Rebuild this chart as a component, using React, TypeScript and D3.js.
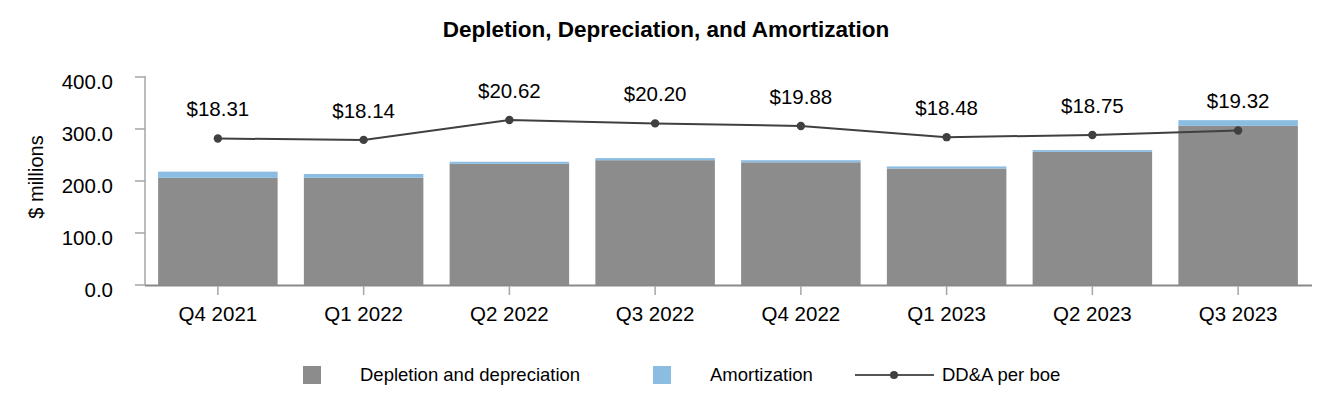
import React from 'react'
import * as d3 from 'd3'

// quarterly DD&A
const QUARTERS = ['Q4 2021', 'Q1 2022', 'Q2 2022', 'Q3 2022', 'Q4 2022', 'Q1 2023', 'Q2 2023', 'Q3 2023']
const DEPLETION = [206, 206, 233, 240, 236, 224, 256, 306]
const AMORTIZATION = [12, 7.5, 4, 4, 4, 4, 3.5, 11]
const PER_BOE = [18.31, 18.14, 20.62, 20.2, 19.88, 18.48, 18.75, 19.32]
const Y_TICKS = [0, 100, 200, 300, 400]

const W = 1332
const H = 420
const FONT = 'Liberation Sans, Arial, sans-serif'
const GRAY = '#8c8c8c'
const BLUE = '#8bbde3'
const LINE = '#404040'
const AXIS = '#a6a6a6'

const App: React.FC = () => {
  const left = 145
  const right = 1311
  const top = 77
  const bottom = 285

  const x = d3.scaleBand<string>()
    .domain(QUARTERS)
    .range([left, right])
    .paddingInner(0.18)
    .paddingOuter(0.09)

  const y = d3.scaleLinear().domain([0, 400]).range([bottom, top])
  // secondary (hidden) axis for $/boe
  const y2 = d3.scaleLinear().domain([0, 26]).range([bottom, top])

  const cx = (q: string) => (x(q) ?? 0) + x.bandwidth() / 2

  const line = d3.line<number>()
    .x((_, i) => cx(QUARTERS[i]))
    .y(d => y2(d))

  const fmt = d3.format('.1f')

  return (
    <svg
      width={W}
      height={H}
      style={{ position: 'absolute', left: 0, top: 0, background: '#fff' }}
      fontFamily={FONT}
    >
      <text x={666} y={37} textAnchor="middle" fontSize={22.5} fontWeight="bold" fill="#000">
        Depletion, Depreciation, and Amortization
      </text>

      {/* y axis */}
      <line x1={left} x2={left} y1={top - 1} y2={bottom} stroke={AXIS} strokeWidth={1.5} />
      {Y_TICKS.map(t => (
        <g key={t}>
          <line x1={left - 10} x2={left} y1={y(t)} y2={y(t)} stroke={AXIS} strokeWidth={1.5} />
          <text x={113} y={y(t) + 5} dy="0.35em" textAnchor="end" fontSize={20.5} fill="#000">
            {fmt(t)}
          </text>
        </g>
      ))}
      <text
        transform={`translate(36, ${(top + bottom) / 2 - 4}) rotate(-90)`}
        textAnchor="middle"
        dy="0.35em"
        fontSize={20}
        fill="#000"
      >
        $ millions
      </text>

      {/* bars */}
      {QUARTERS.map((q, i) => {
        const d = DEPLETION[i]
        const a = AMORTIZATION[i]
        return (
          <g key={q}>
            <rect x={x(q)} y={y(d)} width={x.bandwidth()} height={y(0) - y(d)} fill={GRAY} />
            <rect x={x(q)} y={y(d + a)} width={x.bandwidth()} height={y(d) - y(d + a)} fill={BLUE} />
          </g>
        )
      })}

      {/* x axis */}
      <line x1={left} x2={right + 1} y1={bottom + 0.5} y2={bottom + 0.5} stroke="#8a8a8a" strokeWidth={2} />
      {QUARTERS.map(q => (
        <g key={q}>
          <line x1={cx(q)} x2={cx(q)} y1={bottom + 1} y2={bottom + 10} stroke={AXIS} strokeWidth={1.5} />
          <text x={cx(q)} y={bottom + 29} dy="0.35em" textAnchor="middle" fontSize={20.5} fill="#000">
            {q}
          </text>
        </g>
      ))}

      {/* per boe line */}
      <path d={line(PER_BOE) ?? ''} fill="none" stroke={LINE} strokeWidth={2} />
      {PER_BOE.map((v, i) => (
        <g key={i}>
          <circle cx={cx(QUARTERS[i])} cy={y2(v)} r={4.2} fill={LINE} />
          <text x={cx(QUARTERS[i])} y={y2(v) - 29.5} dy="0.35em" textAnchor="middle" fontSize={20.5} fill="#000">
            {'$' + v.toFixed(2)}
          </text>
        </g>
      ))}

      {/* legend */}
      <g fontSize={18.5} fill="#000">
        <rect x={303} y={366} width={18} height={18} fill={GRAY} />
        <text x={360} y={375} dy="0.35em">Depletion and depreciation</text>
        <rect x={653} y={366} width={18} height={18} fill={BLUE} />
        <text x={710} y={375} dy="0.35em">Amortization</text>
        <line x1={855} x2={934} y1={375} y2={375} stroke="#555" strokeWidth={2} />
        <circle cx={894} cy={375} r={4} fill={LINE} />
        <text x={942} y={375} dy="0.35em">DD&amp;A per boe</text>
      </g>
    </svg>
  )
}

export default App
